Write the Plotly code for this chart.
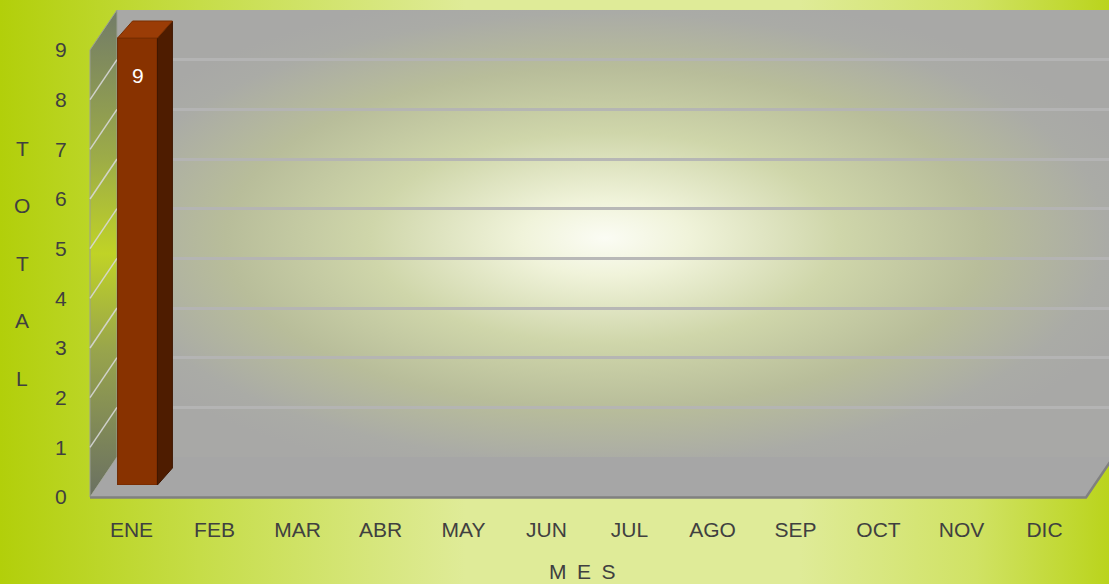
import base64
import plotly.graph_objects as go

# ---------------- data ----------------
MONTHS = ["ENE", "FEB", "MAR", "ABR", "MAY", "JUN", "JUL", "AGO", "SEP", "OCT", "NOV", "DIC"]
TOTALS = [9, None, None, None, None, None, None, None, None, None, None, None]
Y_TICKS = [0, 1, 2, 3, 4, 5, 6, 7, 8, 9]
Y_TITLE = "TOTAL"
X_TITLE = "M E S"

# ---------------- geometry (pixels) ----------------
W, H = 1109, 584
X0, Y0 = 90, 497            # front plane origin (left edge, value 0)
CAT = 83                    # px per category
NCAT = len(MONTHS)
YMAX = 9
UNIT = 447 / 9              # px per unit
WALL_DX, WALL_DY = 27, 40   # depth of walls
BAR_DX, BAR_DY = 6, 12      # bar front-face plane offset
BOX_DX, BOX_DY = 15, 17     # bar depth
BAR_W = 0.48
BAR_YMAX = 9.6

FONT = "Liberation Sans, Arial, sans-serif"
FS = 21
TXT = "#404040"


def dom_x(p0, p1):
    return [max(p0 / W, 0), min(p1 / W, 1)]


def dom_y(top, bottom):
    return [1 - bottom / H, 1 - top / H]


# ---------------- background SVG ----------------
fx0, fx1 = X0, X0 + NCAT * CAT
bx0, bx1 = X0 + WALL_DX, X0 + NCAT * CAT + WALL_DX
ftop = Y0 - YMAX * UNIT
bbot, btop = Y0 - WALL_DY, Y0 - WALL_DY - YMAX * UNIT

svg = f'''<svg xmlns="http://www.w3.org/2000/svg" width="{W}" height="{H}" viewBox="0 0 {W} {H}" preserveAspectRatio="none">
<defs>
<linearGradient id="bg" x1="0" y1="0" x2="1" y2="0">
<stop offset="0" stop-color="#b2cf0a"/>
<stop offset="0.18" stop-color="#c6dd48"/>
<stop offset="0.42" stop-color="#dfeb98"/>
<stop offset="0.72" stop-color="#dfeb98"/>
<stop offset="0.88" stop-color="#d0e264"/>
<stop offset="1" stop-color="#bad41c"/>
</linearGradient>
<radialGradient id="wall" cx="0.49" cy="0.51" r="0.56">
<stop offset="0" stop-color="#fbfcf4"/>
<stop offset="0.15" stop-color="#f0f3da"/>
<stop offset="0.42" stop-color="#cfd6aa"/>
<stop offset="0.68" stop-color="#b8bd9a"/>
<stop offset="0.9" stop-color="#aaaba6"/>
<stop offset="1" stop-color="#a8a8a6"/>
</radialGradient>
<linearGradient id="side" x1="0" y1="0" x2="0" y2="1">
<stop offset="0" stop-color="#727b68"/>
<stop offset="0.3" stop-color="#9cab48"/>
<stop offset="0.5" stop-color="#c0d326"/>
<stop offset="0.7" stop-color="#98a44c"/>
<stop offset="1" stop-color="#6a7062"/>
</linearGradient>
</defs>
<rect x="0" y="0" width="{W}" height="{H}" fill="url(#bg)"/>
<polygon points="{bx0},{btop} {bx1},{btop} {bx1},{bbot} {bx0},{bbot}" fill="url(#wall)"/>
<polygon points="{fx0},{Y0} {fx0},{ftop} {bx0},{btop} {bx0},{bbot}" fill="url(#side)" stroke="#9a9e94" stroke-width="1"/>
<polygon points="{fx0},{Y0} {fx1},{Y0} {bx1},{bbot} {bx0},{bbot}" fill="#a6a6a6"/>
<polyline points="{fx0},{Y0+0.5} {fx1},{Y0+0.5} {bx1},{bbot+0.5}" fill="none" stroke="#808080" stroke-width="2.5"/>
</svg>'''
svg_uri = "data:image/svg+xml;base64," + base64.b64encode(svg.encode()).decode()

# ---------------- figure ----------------
fig = go.Figure()

# invisible traces so that the front and back subplots exist (drawn first)
fig.add_trace(go.Scatter(x=[None], y=[None], xaxis="x", yaxis="y", showlegend=False))
fig.add_trace(go.Scatter(x=[None], y=[None], xaxis="x2", yaxis="y2", showlegend=False))
# bar (front face) on bar plane (x3/y3, drawn above the back-wall gridlines)
fig.add_trace(go.Bar(
    x=MONTHS, y=TOTALS, xaxis="x3", yaxis="y3", width=BAR_W,
    marker=dict(color="#883200", line=dict(color="#6e2800", width=1)),
    hoverinfo="x+y", showlegend=False,
))

shapes = []
annotations = []
dxu = BOX_DX / CAT
dyu = BOX_DY / UNIT
for i, v in enumerate(TOTALS):
    if v is None:
        continue
    r = i + BAR_W / 2
    l = i - BAR_W / 2
    shapes.append(dict(type="path", xref="x3", yref="y3", layer="above",
                       path=f"M {r},0 L {r+dxu},{dyu} L {r+dxu},{v+dyu} L {r},{v} Z",
                       fillcolor="#4e1c00", line=dict(color="#3e1600", width=1)))
    shapes.append(dict(type="path", xref="x3", yref="y3", layer="above",
                       path=f"M {l},{v} L {r},{v} L {r+dxu},{v+dyu} L {l+dxu},{v+dyu} Z",
                       fillcolor="#9a3c06", line=dict(color="#7a2e00", width=1)))
    annotations.append(dict(x=MONTHS[i], y=v, xref="x3", yref="y3", text=str(v),
                            showarrow=False, yshift=-37,
                            font=dict(family=FONT, size=FS, color="white")))

# side-wall diagonal gridlines
for k in Y_TICKS[1:-1]:
    shapes.append(dict(type="line", xref="paper", yref="y", ysizemode="pixel",
                       yanchor=k, x0=fx0 / W, x1=bx0 / W, y0=0, y1=WALL_DY,
                       line=dict(color="rgba(215,215,215,0.9)", width=1.5), layer="below"))

# axis titles
for j, ch in enumerate(Y_TITLE):
    annotations.append(dict(x=22 / W, y=1 - (148 + j * 57.5) / H, xref="paper", yref="paper",
                            text=ch, showarrow=False, xanchor="center", yanchor="middle",
                            font=dict(family=FONT, size=FS, color=TXT)))
annotations.append(dict(x=582 / W, y=1 - 571 / H, xref="paper", yref="paper",
                        text=X_TITLE.replace(" ", "\u2002"), showarrow=False,
                        xanchor="center", yanchor="middle",
                        font=dict(family=FONT, size=FS, color=TXT)))

fig.update_layout(
    width=W, height=H, autosize=False,
    margin=dict(l=0, r=0, t=0, b=0, pad=0, autoexpand=False),
    paper_bgcolor="rgba(0,0,0,0)", plot_bgcolor="rgba(0,0,0,0)",
    font=dict(family=FONT, size=FS, color=TXT),
    showlegend=False,
    images=[dict(source=svg_uri, xref="paper", yref="paper", x=0, y=1, sizex=1, sizey=1,
                 xanchor="left", yanchor="top", sizing="stretch", layer="below")],
    # front plane: tick labels
    xaxis=dict(domain=dom_x(fx0, fx1), range=[-0.5, NCAT - 0.5], anchor="y",
               tickmode="array", tickvals=list(range(NCAT)), ticktext=MONTHS,
               showgrid=False, zeroline=False, showline=False, automargin=False,
               ticks="outside", ticklen=14, tickcolor="rgba(0,0,0,0)",
               tickfont=dict(family=FONT, size=FS, color=TXT), fixedrange=True),
    yaxis=dict(domain=dom_y(ftop, Y0), range=[0, YMAX], anchor="x",
               tickmode="array", tickvals=Y_TICKS, automargin=False,
               showgrid=False, zeroline=False, showline=False,
               ticks="outside", ticklen=18, tickcolor="rgba(0,0,0,0)",
               tickfont=dict(family=FONT, size=FS, color=TXT), fixedrange=True),
    # back plane: gridlines
    xaxis2=dict(domain=dom_x(bx0, bx1), range=[-0.5, NCAT - 0.5], anchor="y2",
                visible=False, fixedrange=True),
    yaxis2=dict(domain=dom_y(btop, bbot), range=[0, YMAX], anchor="x2",
                tickmode="array", tickvals=Y_TICKS[1:-1], showticklabels=False, ticks="",
                showgrid=True, gridcolor="rgba(180,180,180,0.95)", gridwidth=2.5,
                zeroline=False, showline=False, fixedrange=True),
    # bar plane
    xaxis3=dict(domain=dom_x(X0 + BAR_DX, X0 + BAR_DX + NCAT * CAT), type="category",
                categoryorder="array", categoryarray=MONTHS,
                range=[-0.5, NCAT - 0.5], anchor="y3", visible=False, fixedrange=True),
    yaxis3=dict(domain=dom_y(Y0 - BAR_DY - BAR_YMAX * UNIT, Y0 - BAR_DY), range=[0, BAR_YMAX],
                anchor="x3", visible=False, fixedrange=True),
    shapes=shapes,
    annotations=annotations,
)

fig.write_html("out.html", config={"displayModeBar": False, "responsive": False})

# remove page margins so the figure fills the window exactly
with open("out.html", encoding="utf-8") as f:
    html = f.read()
css = ("<style>html,body{margin:0;padding:0;overflow:hidden;background:#ffffff}"
       ".plotly-graph-div{position:absolute;top:0;left:0}</style>")
html = html.replace("<head>", "<head>" + css, 1)
with open("out.html", "w", encoding="utf-8") as f:
    f.write(html)
